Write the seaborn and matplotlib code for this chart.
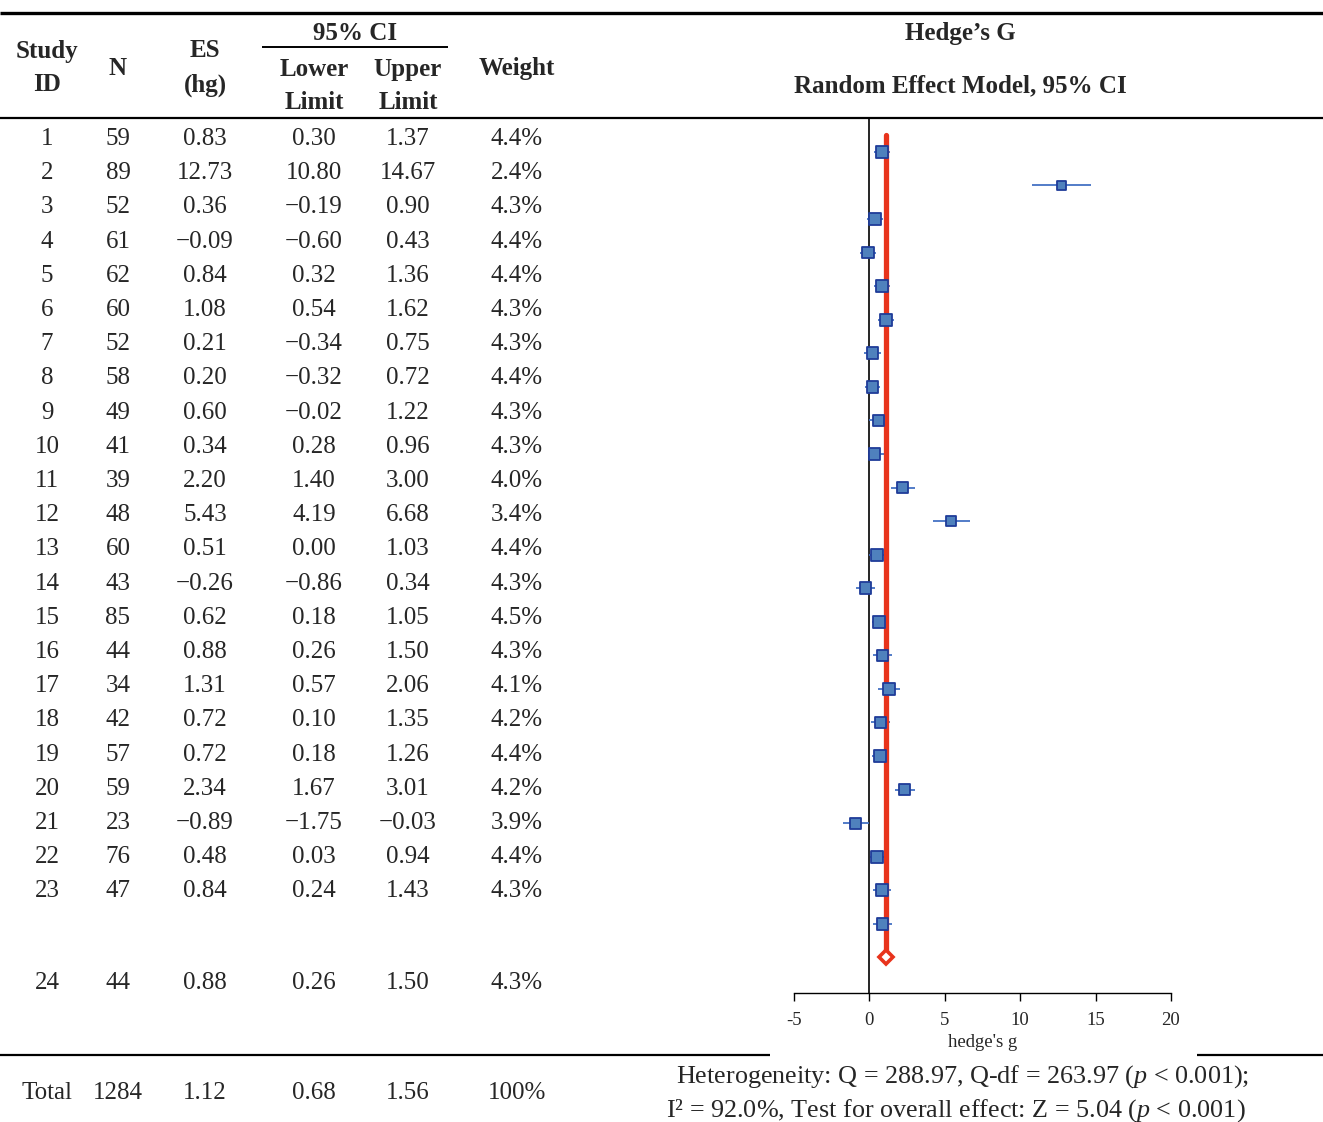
import numpy as np
import pandas as pd
import matplotlib
matplotlib.use("Agg")
import matplotlib.pyplot as plt
import seaborn as sns

# table data
study_ids = [str(i) for i in range(1, 25)]
n_subj = [59, 89, 52, 61, 62, 60, 52, 58, 49, 41, 39, 48, 60, 43, 85, 44, 34, 42, 57, 59, 23, 76, 47, 44]
es_hg = [0.83, 12.73, 0.36, -0.09, 0.84, 1.08, 0.21, 0.20, 0.60, 0.34, 2.20, 5.43, 0.51, -0.26, 0.62,
         0.88, 1.31, 0.72, 0.72, 2.34, -0.89, 0.48, 0.84, 0.88]
ci_lower = [0.30, 10.80, -0.19, -0.60, 0.32, 0.54, -0.34, -0.32, -0.02, 0.28, 1.40, 4.19, 0.00, -0.86, 0.18,
            0.26, 0.57, 0.10, 0.18, 1.67, -1.75, 0.03, 0.24, 0.26]
ci_upper = [1.37, 14.67, 0.90, 0.43, 1.36, 1.62, 0.75, 0.72, 1.22, 0.96, 3.00, 6.68, 1.03, 0.34, 1.05,
            1.50, 2.06, 1.35, 1.26, 3.01, -0.03, 0.94, 1.43, 1.50]
weights = [4.4, 2.4, 4.3, 4.4, 4.4, 4.3, 4.3, 4.4, 4.3, 4.3, 4.0, 3.4, 4.4, 4.3, 4.5,
           4.3, 4.1, 4.2, 4.4, 4.2, 3.9, 4.4, 4.3, 4.3]
total_row = ["Total", "1284", "1.12", "0.68", "1.56", "100%"]
total_es = 1.12
x_ticks = [-5, 0, 5, 10, 15, 20]

header_left = ["Study\nID", "N", "ES\n(hg)", "Lower\nLimit", "Upper\nLimit", "Weight"]
het_line1 = "Heterogeneity: Q = 288.97, Q-df = 263.97 ($\\mathit{p}$ < 0.001);"
het_line2 = "I\u00b2 = 92.0%, Test for overall effect: Z = 5.04 ($\\mathit{p}$ < 0.001)"

sns.set_theme(style="white")
plt.rcParams["font.family"] = ["Liberation Serif", "DejaVu Serif"]
plt.rcParams["mathtext.fontset"] = "custom"
plt.rcParams["mathtext.rm"] = "Liberation Serif"
plt.rcParams["mathtext.it"] = "Liberation Serif:italic"

W, H = 1323, 1122
fig = plt.figure(figsize=(W / 100, H / 100), dpi=100)

# background axes in pixel coordinates for the table part
bg = fig.add_axes([0, 0, 1, 1])
bg.set_xlim(0, W)
bg.set_ylim(H, 0)
bg.axis("off")


def fmt(v):
    return f"{v:.2f}".replace("-", "\u2212")


FS = 18
col_x = [47, 118, 205, 314, 408, 517]

# rules
bg.plot([0, W], [13, 13], color="black", lw=2.4, solid_capstyle="butt")
bg.plot([0, W], [118, 118], color="black", lw=1.6, solid_capstyle="butt")
bg.plot([262, 448], [47, 47], color="black", lw=1.4, solid_capstyle="butt")
bg.plot([0, 770], [1055, 1055], color="black", lw=1.6, solid_capstyle="butt")
bg.plot([1197, W], [1055, 1055], color="black", lw=1.6, solid_capstyle="butt")

# header
hdr = dict(ha="center", va="center", fontsize=FS, fontweight="bold", linespacing=1.6)
bg.text(col_x[0], 68, header_left[0], **hdr)
bg.text(col_x[1], 68, header_left[1], **hdr)
bg.text(col_x[2], 68, header_left[2], **hdr)
bg.text(355, 33, "95% CI", **hdr)
bg.text(col_x[3], 86, header_left[3], **hdr)
bg.text(col_x[4], 86, header_left[4], **hdr)
bg.text(col_x[5], 68, header_left[5], **hdr)
bg.text(960, 33, "Hedge\u2019s G", **hdr)
bg.text(960, 86, "Random Effect Model, 95% CI", **hdr)

# body rows
row_y = [139 + 34.2 * i for i in range(23)] + [983]
for i, y in enumerate(row_y):
    cells = [study_ids[i], str(n_subj[i]), fmt(es_hg[i]), fmt(ci_lower[i]), fmt(ci_upper[i]), f"{weights[i]:.1f}%"]
    for cx, s in zip(col_x, cells):
        bg.text(cx, y, s, ha="center", va="center", fontsize=FS)

for cx, s in zip(col_x, total_row):
    bg.text(cx, 1093, s, ha="center", va="center", fontsize=FS)

bg.text(963, 1077, het_line1, ha="center", va="center", fontsize=18.8)
bg.text(956, 1111, het_line2, ha="center", va="center", fontsize=18.8)

# forest plot
ax = fig.add_axes([794 / W, 1 - 993 / H, 377 / W, 875 / H])
ax.patch.set_alpha(0)
df = pd.DataFrame({"es": es_hg, "lo": ci_lower, "hi": ci_upper, "w": weights,
                   "pos": np.arange(1, len(es_hg) + 1)})

ax.axvline(0, color="black", lw=1.2, zorder=1)
ax.hlines(df["pos"], df["lo"], df["hi"], color="#4472C4", lw=1.3, zorder=2)
diamond_pos = len(es_hg) + 1
ax.plot([total_es, total_es], [0.49, diamond_pos], color="#E8341C", lw=3.8,
        solid_capstyle="round", zorder=3)
sns.scatterplot(data=df, x="es", y="pos", size="w", sizes=(36, 74), size_norm=(2.4, 4.5),
                marker="s", color="#4F81BD", edgecolor="#1F3C99", linewidth=1.3,
                legend=False, zorder=4, ax=ax)
ax.plot([total_es], [diamond_pos], marker="D", markersize=7.5, markerfacecolor="white",
        markeredgecolor="#E8341C", markeredgewidth=2.6, zorder=5)

ax.set_xlim(-5, 20)
ax.set_ylim(26.06, -0.01)
ax.set_xticks(x_ticks)
ax.set_xticklabels([str(t) for t in x_ticks])
ax.set_yticks([])
for side in ["left", "top", "right"]:
    ax.spines[side].set_visible(False)
ax.spines["bottom"].set_color("black")
ax.spines["bottom"].set_linewidth(1.0)
ax.tick_params(axis="x", direction="out", length=6, width=1.0, color="black",
               labelsize=13.5, pad=8, bottom=True)
ax.set_xlabel("hedge's g", fontsize=13.5, labelpad=3)
ax.set_ylabel("")

fig.savefig("out.png", dpi=100)
